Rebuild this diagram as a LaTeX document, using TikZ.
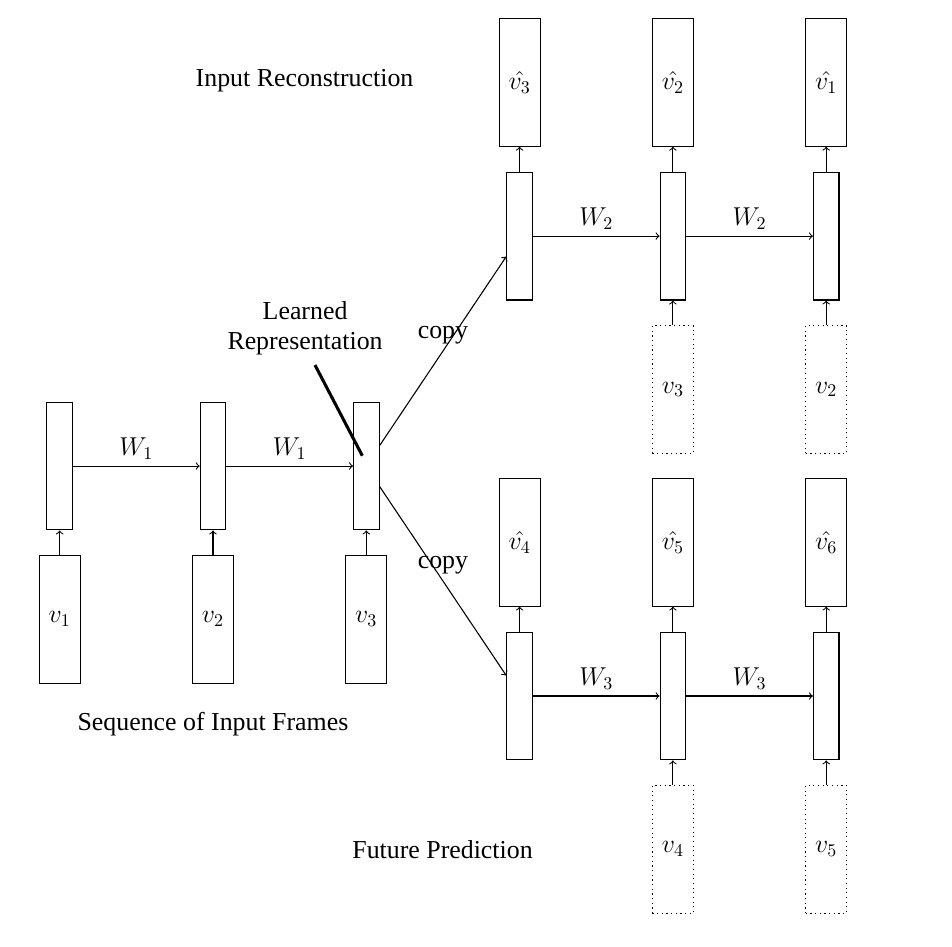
\documentclass[tikz,border=0pt]{standalone}
\usepackage{fontspec}
\setmainfont{Liberation Serif}
\begin{document}
\begin{tikzpicture}[font=\fontsize{14.4}{17}\selectfont,
  hid/.style={draw, line width=0.6pt, minimum width=0.5cm, minimum height=2.5cm, inner sep=0pt},
  inp/.style={draw, line width=0.6pt, minimum width=0.8cm, minimum height=2.5cm, inner sep=0pt},
  futinp/.style={inp, dotted},
  conn/.style={->, line width=0.6pt},
  lbl/.style={inner sep=2pt}]
\useasboundingbox (0,0) rectangle (18.63,-18.513);
% encoder
\node[hid] (h1) at (1.168,-9.12) {};
\node[hid] (h2) at (4.168,-9.12) {};
\node[hid] (h3) at (7.168,-9.12) {};
\node[inp] (v1) at (1.168,-12.12) {$v_1$};
\node[inp] (v2) at (4.168,-12.12) {$v_2$};
\node[inp] (v3) at (7.168,-12.12) {$v_3$};
% reconstruction
\node[hid] (r1) at (10.168,-4.62) {};
\node[hid] (r2) at (13.168,-4.62) {};
\node[hid] (r3) at (16.168,-4.62) {};
\node[inp] (o3) at (10.168,-1.61) {$\hat{v_3}$};
\node[inp] (o2) at (13.168,-1.61) {$\hat{v_2}$};
\node[inp] (o1) at (16.168,-1.61) {$\hat{v_1}$};
\node[futinp] (ri3) at (13.168,-7.62) {$v_3$};
\node[futinp] (ri2) at (16.168,-7.62) {$v_2$};
% prediction
\node[hid] (f1) at (10.168,-13.62) {};
\node[hid] (f2) at (13.168,-13.62) {};
\node[hid] (f3) at (16.168,-13.62) {};
\node[inp] (o4) at (10.168,-10.61) {$\hat{v_4}$};
\node[inp] (o5) at (13.168,-10.61) {$\hat{v_5}$};
\node[inp] (o6) at (16.168,-10.61) {$\hat{v_6}$};
\node[futinp] (fi4) at (13.168,-16.62) {$v_4$};
\node[futinp] (fi5) at (16.168,-16.62) {$v_5$};
% connectors
\draw[conn] (v1) -- (h1);
\draw[conn] (v2) -- (h2);
\draw[conn] (v3) -- (h3);
\draw[conn] (h1) -- node[above] {$W_1$} (h2);
\draw[conn] (h2) -- node[above] {$W_1$} (h3);
\draw[conn] ([yshift=0.4cm]h3.east) -- node[above] {copy} ([yshift=-0.4cm]r1.west);
\draw[conn] ([yshift=-0.4cm]h3.east) -- node[above] {copy} ([yshift=0.4cm]f1.west);
\draw[conn] (r1) -- node[above] {$W_2$} (r2);
\draw[conn] (r2) -- node[above] {$W_2$} (r3);
\draw[conn] (f1) -- node[above] {$W_3$} (f2);
\draw[conn] (f2) -- node[above] {$W_3$} (f3);
\draw[conn] (r1) -- (o3);
\draw[conn] (r2) -- (o2);
\draw[conn] (r3) -- (o1);
\draw[conn] (ri3) -- (r2);
\draw[conn] (ri2) -- (r3);
\draw[conn] (f1) -- (o4);
\draw[conn] (f2) -- (o5);
\draw[conn] (f3) -- (o6);
\draw[conn] (fi4) -- (f2);
\draw[conn] (fi5) -- (f3);
% labels
\node[lbl] (lr) at (5.97,-6.42) [align=center] {Learned\\Representation};
\coordinate (lrtop) at (6.164,-7.143);
\coordinate (lrtip) at (7.09,-8.918);
\draw[line width=1.7pt] (lrtop) -- (lrtip);
\node[lbl] (tir) at (5.96,-1.57) {Input Reconstruction};
\node[lbl] (tsf) at (4.168,-14.17) {Sequence of Input Frames};
\node[lbl] (tfp) at (8.66,-16.63) {Future Prediction};
\end{tikzpicture}
\end{document}
